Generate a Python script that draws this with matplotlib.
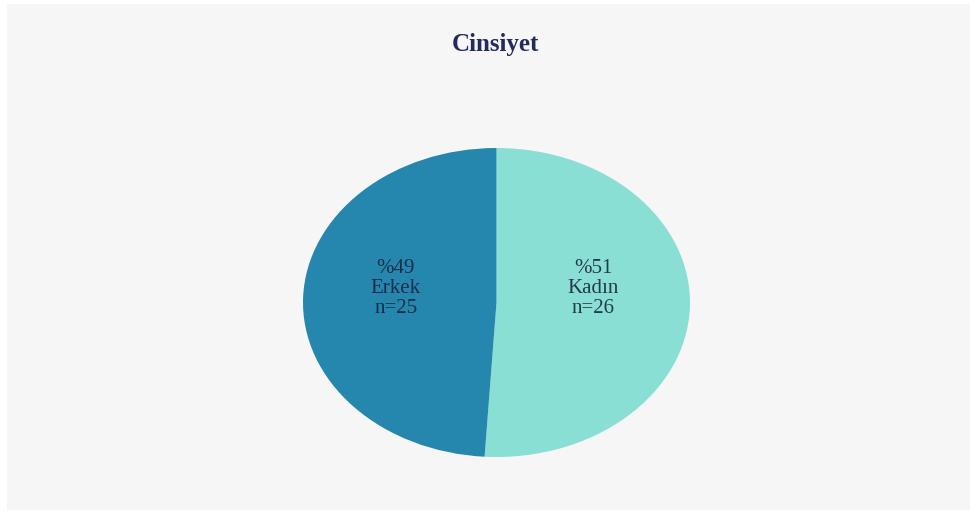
import matplotlib
matplotlib.use("Agg")
import matplotlib.pyplot as plt
from matplotlib.patches import Rectangle

title = "Cinsiyet"
categories = ["Kadın", "Erkek"]
counts = [26, 25]
percents = [51, 49]
colors = ["#8adfd5", "#2587ad"]
text_colors = ["#243a4e", "#1a2d4c"]

fig = plt.figure(figsize=(9.78, 5.2), dpi=100)
fig.patch.set_facecolor("white")
W, H = 978, 520
bg = Rectangle((7/W, 10/H), 963/W, 506/H, transform=fig.transFigure,
               facecolor="#f6f6f6", edgecolor="none", zorder=-10)
fig.patches.append(bg)

ax = fig.add_axes([303/W, (H-457)/H, 387/W, 309/H])
ax.set_facecolor("none")
ax.set_zorder(5)

labels_txt = [f"%{p}\n{c}\nn={n}" for p, c, n in zip(percents, categories, counts)]
wedges, texts = ax.pie(counts, colors=colors, startangle=90, counterclock=False,
                       labels=labels_txt, labeldistance=0.55,
                       wedgeprops=dict(edgecolor="none"),
                       textprops=dict(family="Liberation Serif", fontsize=15,
                                      fontweight="medium",
                                      ha="center", va="center", linespacing=1.1))
ax.set_aspect("auto")
ax.set_xlim(-1, 1)
ax.set_ylim(-1, 1)
pos = [(0.50, 0.09), (-0.52, 0.09)]
for t, p, tc in zip(texts, pos, text_colors):
    t.set_position(p)
    t.set_ha("center")
    t.set_va("center")
    t.set_color(tc)

fig.text(495/W, 1 - 45/H, title, ha="center", va="center", family="Liberation Serif",
         fontsize=18, fontweight="bold", color="#232a5c", zorder=10)

fig.savefig("out.png", dpi=100, facecolor=fig.get_facecolor())
